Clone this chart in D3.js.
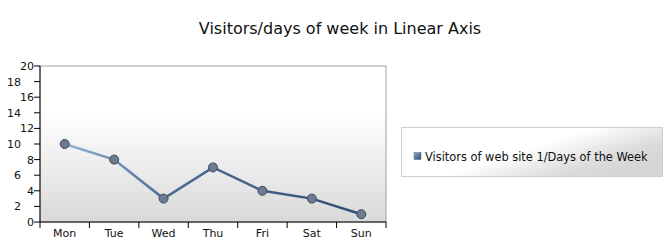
<!DOCTYPE html>
<html>
<head>
<script src="https://cdn.jsdelivr.net/npm/d3@7"></script>
<style>
  body { margin: 0; background: #fff; font-family: "DejaVu Sans", Verdana, sans-serif; }
  text { fill: #111; }
</style>
</head>
<body>
<div id="chart"></div>
<script>
var days = ["Mon", "Tue", "Wed", "Thu", "Fri", "Sat", "Sun"];
var visitors = [10, 8, 3, 7, 4, 3, 1];
var yTicks = [0, 2, 4, 6, 8, 10, 12, 14, 16, 18, 20];
var seriesName = "Visitors of web site 1/Days of the Week";
var title = "Visitors/days of week in Linear Axis";

var width = 664, height = 251;
var plot = { left: 40, top: 66, right: 386, bottom: 222 };

var svg = d3.select("#chart").append("svg")
  .attr("width", width)
  .attr("height", height);

var defs = svg.append("defs");

var bg = defs.append("linearGradient").attr("id", "plotBg")
  .attr("x1", 0).attr("y1", 0).attr("x2", 0).attr("y2", 1);
bg.append("stop").attr("offset", "0").attr("stop-color", "#ffffff");
bg.append("stop").attr("offset", "0.3").attr("stop-color", "#ffffff");
bg.append("stop").attr("offset", "1").attr("stop-color", "#d9d9d9");

var lineGrad = defs.append("linearGradient").attr("id", "lineGrad")
  .attr("gradientUnits", "userSpaceOnUse")
  .attr("x1", plot.left).attr("y1", 0).attr("x2", plot.right).attr("y2", 0);
lineGrad.append("stop").attr("offset", "0").attr("stop-color", "#a9c6e8");
lineGrad.append("stop").attr("offset", "0.35").attr("stop-color", "#4d6f98");
lineGrad.append("stop").attr("offset", "1").attr("stop-color", "#2c4a70");

var legBg = defs.append("linearGradient").attr("id", "legBg")
  .attr("x1", 0).attr("y1", 0).attr("x2", 1).attr("y2", 0.6);
legBg.append("stop").attr("offset", "0").attr("stop-color", "#ffffff");
legBg.append("stop").attr("offset", "0.55").attr("stop-color", "#ffffff");
legBg.append("stop").attr("offset", "0.85").attr("stop-color", "#dcdcdc");
legBg.append("stop").attr("offset", "1").attr("stop-color", "#d6d6d6");

var markGrad = defs.append("linearGradient").attr("id", "markGrad")
  .attr("x1", 0).attr("y1", 0).attr("x2", 1).attr("y2", 1);
markGrad.append("stop").attr("offset", "0").attr("stop-color", "#8fa9c9");
markGrad.append("stop").attr("offset", "1").attr("stop-color", "#2c4a70");

var x = d3.scaleBand().domain(days).range([plot.left, plot.right]);
var y = d3.scaleLinear().domain([0, 20]).range([plot.bottom, plot.top]);

// title
svg.append("text")
  .attr("x", 340).attr("y", 34)
  .attr("text-anchor", "middle")
  .style("font-size", "16px")
  .text(title);

// plot area
svg.append("rect")
  .attr("x", plot.left).attr("y", plot.top)
  .attr("width", plot.right - plot.left).attr("height", plot.bottom - plot.top)
  .attr("fill", "url(#plotBg)")
  .attr("stroke", "#a0a0a0");

// y axis
var yAxis = svg.append("g");
yAxis.append("line")
  .attr("x1", plot.left).attr("x2", plot.left)
  .attr("y1", plot.top).attr("y2", plot.bottom)
  .attr("stroke", "#000");
yTicks.forEach(function(t, i) {
  yAxis.append("line")
    .attr("x1", plot.left - 6).attr("x2", plot.left)
    .attr("y1", y(t)).attr("y2", y(t))
    .attr("stroke", "#000");
  yAxis.append("text")
    .attr("x", i % 2 == 0 ? plot.left - 6 : plot.left - 19)
    .attr("y", y(t) + 4)
    .attr("text-anchor", "end")
    .style("font-size", "11px")
    .text(t);
});

// x axis
var xAxis = svg.append("g");
xAxis.append("line")
  .attr("x1", plot.left).attr("x2", plot.right)
  .attr("y1", plot.bottom).attr("y2", plot.bottom)
  .attr("stroke", "#000");
days.forEach(function(d, i) {
  xAxis.append("line")
    .attr("x1", x(d)).attr("x2", x(d))
    .attr("y1", plot.bottom).attr("y2", plot.bottom + 6)
    .attr("stroke", "#000");
  xAxis.append("text")
    .attr("x", x(d) + x.bandwidth() / 2)
    .attr("y", plot.bottom + 15)
    .attr("text-anchor", "middle")
    .style("font-size", "11px")
    .text(d);
});
xAxis.append("line")
  .attr("x1", plot.right).attr("x2", plot.right)
  .attr("y1", plot.bottom).attr("y2", plot.bottom + 6)
  .attr("stroke", "#000");

// series
var line = d3.line()
  .x(function(d, i) { return x(days[i]) + x.bandwidth() / 2; })
  .y(function(d) { return y(d); });

svg.append("path")
  .datum(visitors)
  .attr("d", line)
  .attr("fill", "none")
  .attr("stroke", "url(#lineGrad)")
  .attr("stroke-width", 2.5);

svg.selectAll(".pt")
  .data(visitors)
  .enter().append("circle")
  .attr("class", "pt")
  .attr("cx", function(d, i) { return x(days[i]) + x.bandwidth() / 2; })
  .attr("cy", function(d) { return y(d); })
  .attr("r", 4.5)
  .attr("fill", "#6c7b8f")
  .attr("stroke", "#3e4a5a")
  .attr("stroke-width", 1);

// legend
var leg = svg.append("g");
leg.append("rect")
  .attr("x", 401.5).attr("y", 127.5)
  .attr("width", 261).attr("height", 49)
  .attr("fill", "url(#legBg)")
  .attr("stroke", "#cfcfcf");
leg.append("rect")
  .attr("x", 414).attr("y", 152.5)
  .attr("width", 7).attr("height", 7)
  .attr("fill", "url(#markGrad)")
  .attr("stroke", "#5a6a80")
  .attr("stroke-width", 0.5);
leg.append("text")
  .attr("x", 425).attr("y", 160.5)
  .style("font-size", "11.4px")
  .text(seriesName);
</script>
</body>
</html>
